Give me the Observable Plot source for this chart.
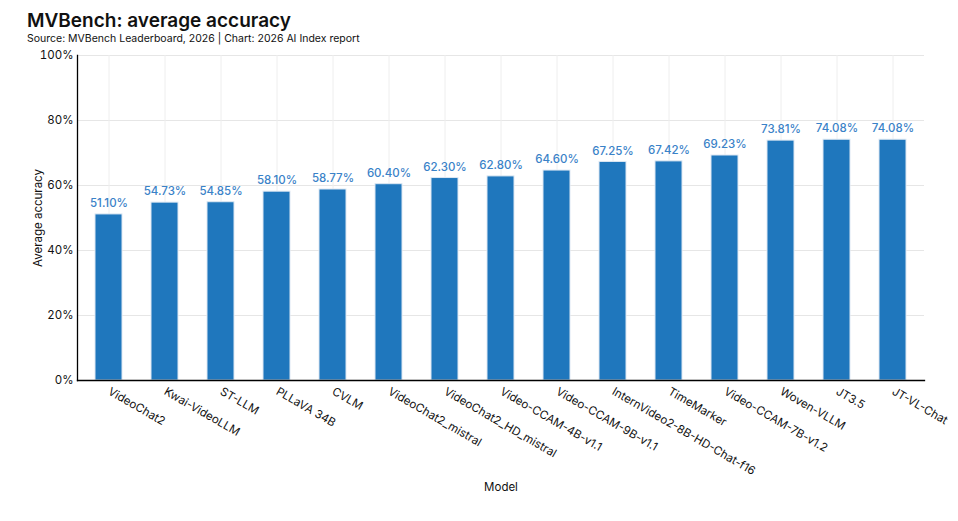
<!DOCTYPE html>
<html>
<head>
<meta charset="utf-8">
<script src="https://cdn.jsdelivr.net/npm/d3@7"></script>
<script src="https://cdn.jsdelivr.net/npm/@observablehq/plot@0.6"></script>
<style>
  body { margin: 0; background: #fff; font-family: Inter, "Noto Sans", sans-serif; }
  #wrap { width: 958px; }
  h1 { margin: 0; padding: 10px 0 0 27px; font-size: 19px; font-weight: 600; line-height: 22px; color: #111; }
  .sub { padding: 0 0 0 27px; font-size: 10.5px; line-height: 13px; color: #111; }
</style>
</head>
<body>
<div id="wrap">
  <h1>MVBench: average accuracy</h1>
  <div class="sub">Source: MVBench Leaderboard, 2026 | Chart: 2026 AI Index report</div>
  <div id="chart"></div>
</div>
<script>
const models = ["VideoChat2","Kwai-VideoLLM","ST-LLM","PLLaVA 34B","CVLM","VideoChat2_mistral","VideoChat2_HD_mistral","Video-CCAM-4B-v1.1","Video-CCAM-9B-v1.1","InternVideo2-8B-HD-Chat-f16","TimeMarker","Video-CCAM-7B-v1.2","Woven-VLLM","JT3.5","JT-VL-Chat"];
const accuracy = [51.10,54.73,54.85,58.10,58.77,60.40,62.30,62.80,64.60,67.25,67.42,69.23,73.81,74.08,74.08];
const yTicks = [0,20,40,60,80,100];

const data = models.map((m, i) => ({model: m, value: accuracy[i]}));

const chart = Plot.plot({
  width: 958,
  height: 475,
  marginTop: 10,
  marginLeft: 77,
  marginRight: 34,
  marginBottom: 140,
  style: {fontFamily: "Inter, 'Noto Sans', sans-serif", fontSize: "11px", color: "#111"},
  x: {domain: models, paddingInner: 0.52, paddingOuter: 0.26},
  y: {domain: [0, 100]},
  marks: [
    Plot.gridY(yTicks, {stroke: "#e6e6e6", strokeOpacity: 1}),
    Plot.gridX(models, {stroke: "#eeeeee", strokeOpacity: 1}),
    Plot.barY(data, {x: "model", y: "value", fill: "#1f77bd", stroke: "#dde8f3", strokeWidth: 1}),
    Plot.text(data, {x: "model", y: "value", text: d => d.value.toFixed(2) + "%", dy: -11, fill: "#3a82c8", fontSize: 11.5, fontWeight: 500}),
    Plot.axisX({tickRotate: 30, tickSize: 0, tickPadding: 10, textAnchor: "start", fontSize: 11.5, label: "Model", labelAnchor: "center", labelOffset: 110}),
    Plot.axisY({ticks: yTicks, tickFormat: d => d + "%", tickSize: 0, tickPadding: 4, fontSize: 11.5, label: "Average accuracy", labelAnchor: "center", labelArrow: false, labelOffset: 44}),
    Plot.frame({anchor: "left", stroke: "#000", strokeWidth: 1.3}),
    Plot.frame({anchor: "bottom", stroke: "#000", strokeWidth: 1.3})
  ]
});
document.getElementById("chart").appendChild(chart);
</script>
</body>
</html>
